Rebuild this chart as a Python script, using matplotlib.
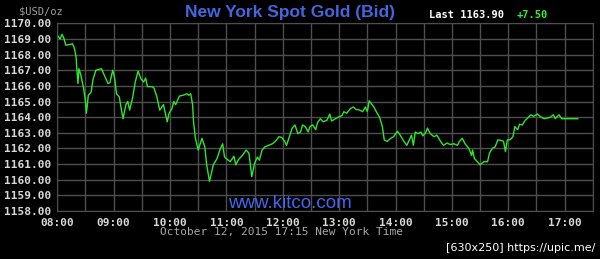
"""Kitco-style intraday chart: New York spot gold, Oct 12 2015."""

import numpy as np
import matplotlib
matplotlib.use("Agg")
import matplotlib.pyplot as plt
from matplotlib.ticker import FixedLocator, FuncFormatter

# minutes after 08:00 and bid price
minutes = [0, 3, 5, 7, 9, 14, 16, 18, 20, 21, 22, 23, 25, 28, 30, 31, 33, 36, 38, 41,
           47, 50, 54, 56, 59, 61, 63, 66, 68, 70, 73, 75, 77, 80, 83, 86, 89, 92, 94, 96,
           101, 103, 106, 109, 113, 117, 119, 122, 124, 126, 130, 134, 138, 140, 142, 144, 145,
           147, 150, 154, 157, 159, 162, 164, 166, 170, 173, 176, 178, 182, 184, 188, 190,
           193, 197, 201, 204, 207, 210, 213, 215, 218, 221, 225, 229, 232, 236, 239, 242,
           244, 247, 250, 253, 256, 259, 261, 264, 267, 269, 272, 275, 277, 280,
           283, 287, 290, 292, 296, 299, 303, 305, 308, 312, 315, 318, 322, 325, 328, 330,
           332, 335, 337, 340, 343, 346, 348, 351, 355, 358, 362, 365, 369, 372, 374, 377,
           379, 381, 384, 387, 389, 392, 394, 397, 401, 404, 408, 411, 415, 418, 422, 426,
           428, 431, 434, 438, 441, 442, 444, 448, 450, 454, 458, 460, 463, 466, 469, 473,
           475, 477, 479, 482, 485, 487, 490, 492, 495, 498, 500, 504, 507, 511, 514, 518,
           522, 525, 528, 530, 534, 537, 554]
prices = [1169.25, 1169.0, 1169.3, 1169.05, 1168.6, 1168.65, 1168.7, 1168.45, 1167.85, 1166.9,
          1166.15, 1167.1, 1166.7, 1165.85, 1165.0, 1164.25, 1165.4, 1165.6, 1166.4, 1167.0,
          1167.1, 1166.7, 1166.15, 1166.2, 1167.0, 1166.5, 1165.5, 1165.3, 1164.55, 1163.9,
          1164.8, 1165.0, 1164.45, 1165.2, 1166.25, 1166.95, 1166.45, 1166.25, 1166.5, 1165.95,
          1165.95, 1165.85, 1165.3, 1164.45, 1164.8, 1163.7, 1164.25, 1164.55, 1165.0, 1164.8,
          1165.35, 1165.4, 1165.5, 1165.4, 1165.5, 1164.8, 1163.7,
          1162.65, 1161.9, 1162.65, 1162.1, 1160.95, 1159.9, 1160.4, 1160.95, 1161.35, 1161.9,
          1162.3, 1161.45, 1161.25, 1161.15, 1161.5, 1160.95,
          1161.3, 1161.55, 1161.9, 1161.7, 1160.2, 1161.05, 1161.45, 1161.25, 1161.9, 1162.1,
          1162.2, 1162.3, 1162.45, 1162.75, 1162.7, 1162.45,
          1162.2, 1162.75, 1163.3, 1163.5, 1162.95, 1163.05, 1163.5, 1163.4, 1163.05, 1163.4,
          1163.5, 1163.2, 1163.65, 1163.9,
          1163.7, 1163.8, 1164.2, 1163.75, 1163.9, 1164.0, 1164.1, 1164.35, 1164.25, 1164.55,
          1164.65, 1164.5, 1164.45, 1164.35, 1164.65, 1164.35,
          1165.05, 1164.8, 1164.65, 1164.3, 1164.0, 1163.4, 1162.55, 1162.45, 1162.65, 1162.75,
          1163.1, 1162.85, 1162.45, 1162.2, 1162.45, 1162.85,
          1162.2, 1163.05, 1162.95, 1163.05, 1162.8, 1163.0, 1163.3, 1162.95, 1162.75, 1162.85,
          1162.45, 1162.2, 1162.35, 1162.25, 1162.3, 1162.2,
          1162.45, 1162.65, 1162.3, 1162.0, 1161.55, 1161.9, 1161.35, 1161.1, 1160.95, 1161.15,
          1161.15, 1161.7, 1162.0, 1162.1, 1162.55, 1162.5,
          1162.45, 1161.8, 1162.55, 1162.55, 1162.75, 1163.4, 1163.2, 1163.55, 1163.5, 1163.8,
          1163.9, 1164.15, 1164.05, 1164.2, 1164.05, 1163.9,
          1163.95, 1164.0, 1164.15, 1163.9, 1164.15, 1163.9, 1163.9]

y_ticks = list(range(1158, 1171))
hour_ticks = list(range(8, 18))
last_price = "Last 1163.90"
change = "+7.50"

BG = "#000000"
GRID = "#4e4e4e"
LABEL = "#d8d8d8"
MONO = ["DejaVu Sans Mono"]

hours = 8 + np.array(minutes) / 60.0

fig = plt.figure(figsize=(6.0, 2.59), dpi=100, facecolor=BG)
ax = fig.add_axes([0.0955, 0.1853, 0.8925, 0.7247], facecolor=BG)

ax.plot(hours, prices, color="#2ee62a", linewidth=1.0)

ax.set_xlim(8, 17.5)
ax.set_ylim(1158, 1170)
ax.xaxis.set_major_locator(FixedLocator(hour_ticks))
ax.xaxis.set_minor_locator(FixedLocator([h + 0.5 for h in hour_ticks]))
ax.xaxis.set_major_formatter(FuncFormatter(lambda v, _: f"{int(round(v)):02d}:00"))
ax.yaxis.set_major_locator(FixedLocator(y_ticks))
ax.yaxis.set_major_formatter(FuncFormatter(lambda v, _: f"{v:.2f}"))

ax.grid(True, which="both", color=GRID, linewidth=1.0)
ax.set_axisbelow(True)
ax.tick_params(which="both", length=0, colors=LABEL, labelsize=8)
ax.tick_params(axis="x", pad=5)
ax.tick_params(axis="y", pad=4)
for lbl in ax.get_xticklabels() + ax.get_yticklabels():
    lbl.set_family(MONO)
    lbl.set_fontweight("bold")
for s in ax.spines.values():
    s.set_color(GRID)

fig.text(41 / 600, 1 - 11 / 259, "$USD/oz", color="#a0a0a0", fontsize=7.5,
         family=MONO, ha="center", va="center")
fig.text(290 / 600, 1 - 12 / 259, "New York Spot Gold (Bid)", color="#4466dd",
         fontsize=12.5, fontweight="bold", family=["Liberation Sans"],
         ha="center", va="center")
fig.text(429 / 600, 1 - 15 / 259, last_price, color="white", fontsize=7.5,
         fontweight="bold", family=MONO, ha="left", va="center")
fig.text(517 / 600, 1 - 15 / 259, change, color="#33ee22", fontsize=7.5,
         fontweight="bold", family=MONO, ha="left", va="center")
fig.text(290 / 600, 1 - 203 / 259, "www.kitco.com", color="#4466ee", fontsize=13.5,
         family=["Liberation Sans"], ha="center", va="center")
fig.text(281 / 600, 1 - 232 / 259, "October 12, 2015 17:15 New York Time",
         color="#a8a8a8", fontsize=8, family=MONO, ha="center", va="center")
fig.text(521 / 600, 1 - 248 / 259, "[630x250] https://upic.me/", color="white",
         fontsize=8, ha="center", va="center")

fig.savefig("out.png", dpi=100, facecolor=BG)
